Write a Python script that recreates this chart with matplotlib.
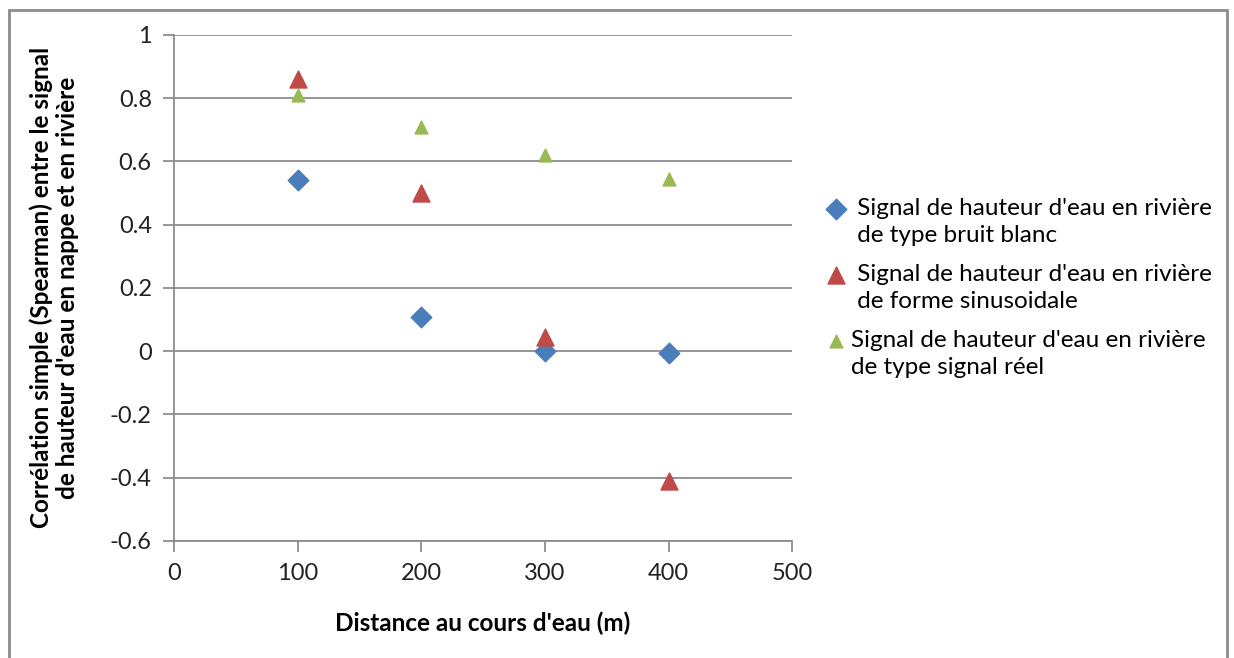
import matplotlib.pyplot as plt
from matplotlib.patches import Rectangle
from matplotlib.legend_handler import HandlerPathCollection

plt.rcParams['font.family'] = ['Lato', 'DejaVu Sans']

# Données
distance = [100, 200, 300, 400]
bruit_blanc = [0.54, 0.107, 0.0, -0.005]
sinusoidal = [0.86, 0.50, 0.045, -0.41]
signal_reel = [0.81, 0.71, 0.62, 0.545]

labels = [
    " Signal de hauteur d'eau en rivière\n de type bruit blanc",
    " Signal de hauteur d'eau en rivière\n de forme sinusoidale",
    "Signal de hauteur d'eau en rivière\nde type signal réel",
]


# marqueur de légende aligné sur la première ligne du texte
class TopHandler(HandlerPathCollection):
    def get_ydata(self, legend, xdescent, ydescent, width, height, fontsize):
        y = super().get_ydata(legend, xdescent, ydescent, width, height, fontsize)
        return y + 0.62 * fontsize


fig = plt.figure(figsize=(12.34, 6.58), dpi=100)
ax = fig.add_axes([0.141, 0.178, 0.501, 0.769])

sc1 = ax.scatter(distance, bruit_blanc, marker='D', s=110, color='#4a7ebb', label=labels[0], zorder=3)
sc2 = ax.scatter(distance, sinusoidal, marker='^', s=150, color='#be4b48', label=labels[1], zorder=3)
sc3 = ax.scatter(distance, signal_reel, marker='^', s=85, color='#98b954', label=labels[2], zorder=3)

ax.set_xlim(0, 500)
ax.set_ylim(-0.6, 1)
ax.set_xticks([0, 100, 200, 300, 400, 500])
ax.set_yticks([-0.6, -0.4, -0.2, 0, 0.2, 0.4, 0.6, 0.8, 1])
ax.set_yticklabels(['-0.6', '-0.4', '-0.2', '0', '0.2', '0.4', '0.6', '0.8', '1'])
ax.yaxis.grid(True, color='#8c8c8c', linewidth=1.3)
ax.set_axisbelow(True)

for s in ['top', 'right']:
    ax.spines[s].set_visible(False)
for s in ['left', 'bottom']:
    ax.spines[s].set_color('#8c8c8c')
    ax.spines[s].set_linewidth(1.3)
ax.tick_params(colors='#8c8c8c', labelcolor='#222222', labelsize=17, length=8, width=1.3, pad=8)

ax.set_xlabel("Distance au cours d'eau (m)", fontsize=17.5, fontweight='bold', labelpad=20)
ax.set_ylabel("Corrélation simple (Spearman) entre le signal\nde hauteur d'eau en nappe et en rivière",
              fontsize=17.5, fontweight='bold', labelpad=22, linespacing=1.15)

h = TopHandler()
leg = fig.legend(loc='center left', bbox_to_anchor=(0.66, 0.562), frameon=False, fontsize=17.5,
                 handletextpad=0.1, labelspacing=0.72, handlelength=1.0, borderaxespad=0,
                 handler_map={sc1: h, sc2: h, sc3: h})
for t in leg.get_texts():
    t.set_linespacing(1.38)

# cadre gris autour du graphique
fig.patches.append(Rectangle((0.007, -0.05), 0.987, 1.035, transform=fig.transFigure,
                             fill=False, edgecolor='#8c8c8c', linewidth=2))

plt.savefig("out.png", dpi=100)
